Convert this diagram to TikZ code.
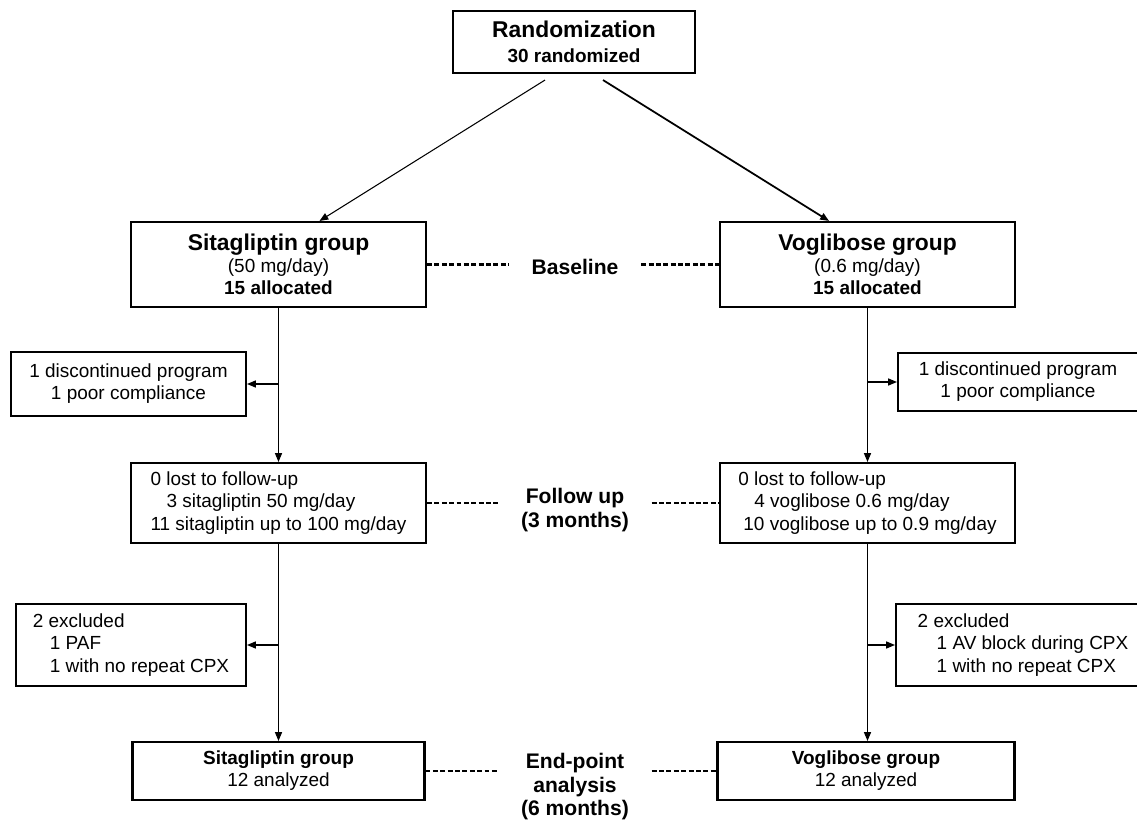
\documentclass[tikz,border=0pt]{standalone}
\usepackage{fontspec}
\setmainfont{Liberation Sans}
\usetikzlibrary{arrows.meta}
\usetikzlibrary{calc}

\tikzset{
  box/.style={draw,line width=1.2pt,inner sep=0pt,align=center,font=\fontsize{10.8}{12.6}\selectfont},
  lbox/.style={box,align=left},
  arr/.style={-{Triangle[length=5pt,width=4pt]},line width=0.6pt},
  dashline/.style={line width=1.4pt,dash pattern=on 2.8pt off 1.4pt},
  stage/.style={align=center,inner xsep=0.45cm,font=\fontsize{12}{14}\selectfont\bfseries}
}

\begin{document}
\begin{tikzpicture}[x=0.02cm,y=-0.02cm]
\useasboundingbox (0,0) rectangle (1137,824);
% top
\node (rand) at (574,42)[box,minimum width=4.84cm,minimum height=1.24cm]{{\fontsize{13}{15}\selectfont\bfseries Randomization}\\[2pt]{\bfseries 30 randomized}};
% baseline
\node (sita) at (278.5,264.5)[box,minimum width=5.9cm,minimum height=1.7cm]{{\fontsize{13}{14}\selectfont\bfseries Sitagliptin group}\\(50 mg/day)\\{\bfseries 15 allocated}};
\node (vogl) at (867.5,264.5)[box,minimum width=5.9cm,minimum height=1.7cm]{{\fontsize{13}{14}\selectfont\bfseries Voglibose group}\\(0.6 mg/day)\\{\bfseries 15 allocated}};
\node (base) at (575,267)[stage]{Baseline};
% dropouts
\node (dis1) at (128.5,384)[box,minimum width=4.7cm,minimum height=1.28cm]{1 discontinued program\\1 poor compliance};
\node (dis2) at (1018,382)[box,minimum width=4.8cm,minimum height=1.16cm]{1 discontinued program\\1 poor compliance};
% follow up
\node (fol1) at (278.5,503)[lbox,minimum width=5.9cm,minimum height=1.6cm]{0 lost to follow-up\\\hspace*{0.32cm}3 sitagliptin 50 mg/day\\11 sitagliptin up to 100 mg/day};
\node (fol2) at (867.5,503)[lbox,minimum width=5.9cm,minimum height=1.6cm]{0 lost to follow-up\\\hspace*{0.32cm}4 voglibose 0.6 mg/day\\\hspace*{0.1cm}10 voglibose up to 0.9 mg/day};
\node (fup) at (575,510)[stage]{Follow up\\(3 months)};
% exclusions
\node (exc1) at (131,645)[lbox,minimum width=4.6cm,minimum height=1.64cm]{2 excluded\\\hspace*{0.34cm}1 PAF\\\hspace*{0.34cm}1 with no repeat CPX};
\node (exc2) at (1023,645)[lbox,minimum width=5.08cm,minimum height=1.64cm]{2 excluded\\\hspace*{0.38cm}1 AV block during CPX\\\hspace*{0.38cm}1 with no repeat CPX};
% end point
\node (ana1) at (278.5,771)[box,minimum width=5.84cm,minimum height=1.16cm]{{\bfseries Sitagliptin group}\\12 analyzed};
\node (ana2) at (866,771)[box,minimum width=5.94cm,minimum height=1.16cm]{{\bfseries Voglibose group}\\12 analyzed};
\node (endl) at (575,787)[stage,font=\fontsize{12}{13.4}\selectfont\bfseries]{End-point\\analysis\\(6 months)};

\draw[arr] ([shift={(-29,6)}]rand.south) -- ([xshift=0.82cm]sita.north);
\draw[arr,line width=1pt] ([shift={(29,6)}]rand.south) -- ([xshift=-0.77cm]vogl.north);
\draw[arr] (sita.south) -- (fol1.north);
\draw[arr] (vogl.south) -- (fol2.north);
\draw[arr] (fol1.south) -- (ana1.north);
\draw[arr] (fol2.south) -- (fol2.south |- ana2.north);
\draw[arr] (sita.south |- dis1.east) -- (dis1.east);
\draw[arr] (vogl.south |- dis2.west) -- (dis2.west);
\draw[arr] (fol1.south |- exc1.east) -- (exc1.east);
\draw[arr] (fol2.south |- exc2.west) -- (exc2.west);

\draw[dashline] (sita.east) -- (sita.east -| base.west);
\draw[dashline] (base.east |- vogl.west) -- (vogl.west);
\draw[dashline] (fol1.east) -- (fol1.east -| fup.west);
\draw[dashline] (fup.east |- fol2.west) -- (fol2.west);
\draw[dashline] (ana1.east) -- (ana1.east -| endl.west);
\draw[dashline] (endl.east |- ana2.west) -- (ana2.west);
\end{tikzpicture}
\end{document}
